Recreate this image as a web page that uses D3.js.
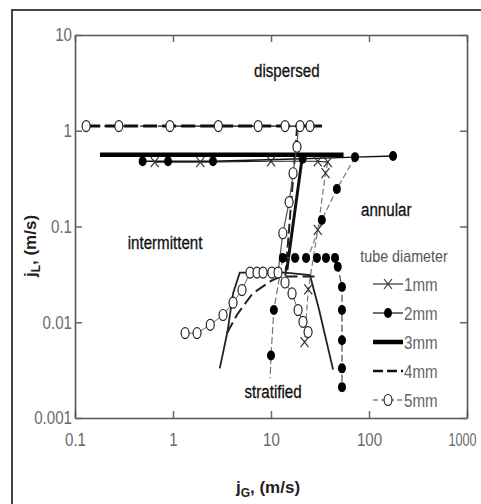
<!DOCTYPE html>
<meta charset="utf-8">
<script src="https://d3js.org/d3.v7.min.js"></script>
<style>
  body { margin: 0; background: #fff; }
  text { font-family: "Liberation Sans", Arial, sans-serif; }
</style>
<svg id="chart" width="481" height="504"></svg>
<script>
  // tick values
  const xTicks = [0.1, 1, 10, 100, 1000];
  const yTicks = [0.001, 0.01, 0.1, 1, 10];

  // flow regime labels [jG, jL]
  const regions = [
    { name: "dispersed", at: [14.5, 3.6] },
    { name: "intermittent", at: [0.83, 0.058] },
    { name: "annular", at: [150, 0.13] },
    { name: "stratified", at: [10.5, 0.0016] }
  ];

  const diameters = ["1mm", "2mm", "3mm", "4mm", "5mm"];

  // 1mm (crosses)
  const mm1Lines = [
    [[0.65, 0.47], [1.9, 0.47], [10, 0.48], [30, 0.48], [38, 0.47]],
    [[38, 0.47], [36, 0.36], [30, 0.092], [24, 0.022], [22, 0.0062]]
  ];
  const mm1Marks = [[0.65, 0.47], [1.9, 0.47], [10, 0.48], [30, 0.48], [38, 0.47], [36, 0.36], [30, 0.092], [24, 0.022], [22, 0.0062]];

  // 2mm (filled circles)
  const mm2Lines = [
    [[0.49, 0.48], [0.89, 0.48], [2.56, 0.48], [21, 0.51], [72, 0.53], [176, 0.545]],
    [[72, 0.53], [47, 0.246], [33, 0.117], [24, 0.048]],
    [[13.2, 0.047], [17.6, 0.047], [22.8, 0.047], [29.4, 0.047], [36.4, 0.047], [45, 0.047], [48, 0.038],
     [53, 0.0233], [53, 0.0134], [53, 0.0065], [53, 0.0033], [53, 0.0021]],
    [[13.2, 0.047], [10.7, 0.0134], [10, 0.0045], [9.8, 0.0026]]
  ];
  const mm2Marks = [[0.49, 0.48], [0.89, 0.48], [2.56, 0.48], [21, 0.51], [72, 0.53], [176, 0.545],
    [47, 0.246], [33, 0.117],
    [13.2, 0.047], [17.6, 0.047], [22.8, 0.047], [29.4, 0.047], [36.4, 0.047], [45, 0.047], [48, 0.038],
    [53, 0.0233], [53, 0.0134], [53, 0.0065], [53, 0.0033], [53, 0.0021],
    [10.7, 0.0134], [10, 0.0045]];

  // 3mm (thick line)
  const mm3Lines = [
    [[0.18, 0.56], [55, 0.56]],
    [[21, 0.56], [14.5, 0.035]],
    [[3.0, 0.0033], [3.6, 0.008], [4.1, 0.02], [4.8, 0.033], [14, 0.033], [25, 0.031], [31, 0.0134], [43, 0.0032]]
  ];

  // 4mm (long dash)
  const mm4Lines = [
    [[0.13, 1.12], [33, 1.12]],
    [[18.5, 1.12], [14, 0.03]],
    [[3.56, 0.0077], [4.5, 0.012], [6.5, 0.02], [10, 0.027], [12.5, 0.03], [24, 0.03], [31, 0.03]]
  ];

  // 5mm (open circles)
  const mm5Lines = [
    [[0.13, 1.12], [0.28, 1.12], [0.93, 1.12], [2.9, 1.12], [7.4, 1.12], [13.9, 1.12], [19.8, 1.12], [25, 1.12], [33, 1.12]],
    [[19, 1.12], [18.4, 0.68], [16.8, 0.36], [15.3, 0.18], [13.2, 0.085], [11.8, 0.033]],
    [[1.33, 0.0077], [1.76, 0.0077], [2.4, 0.0094], [3.24, 0.0119], [4.1, 0.016], [5.06, 0.0217], [6.1, 0.033],
     [7.2, 0.033], [8.3, 0.033], [10.2, 0.033], [11.8, 0.033], [13.9, 0.026], [16.4, 0.02], [18.9, 0.0134],
     [21.2, 0.0101], [23.9, 0.0079]]
  ];
  const mm5Marks = [[0.13, 1.12], [0.28, 1.12], [0.93, 1.12], [2.9, 1.12], [7.4, 1.12], [13.9, 1.12], [19.8, 1.12], [25, 1.12],
    [18.4, 0.68], [16.8, 0.36], [15.3, 0.18], [13.2, 0.085],
    [1.33, 0.0077], [1.76, 0.0077], [2.4, 0.0094], [3.24, 0.0119], [4.1, 0.016], [5.06, 0.0217], [6.1, 0.033],
    [7.2, 0.033], [8.3, 0.033], [10.2, 0.033], [11.8, 0.033], [13.9, 0.026], [16.4, 0.02], [18.9, 0.0134],
    [21.2, 0.0101], [23.9, 0.0079]];

  const svg = d3.select("#chart");
  const mLeft = 75, mTop = 35, mRight = 467, mBottom = 418;

  const x = d3.scaleLog().domain([0.1, 1000]).range([mLeft, mRight]);
  const y = d3.scaleLog().domain([0.001, 10]).range([mBottom, mTop]);

  // outer frame of the scanned figure
  svg.append("rect")
    .attr("x", 12).attr("y", 10).attr("width", 500).attr("height", 520)
    .attr("fill", "none").attr("stroke", "#444").attr("stroke-width", 2);

  const fmt = d => String(d);

  // axes, ticks pointing inward
  const axes = [
    { ax: d3.axisBottom(x).tickValues(xTicks).tickFormat(fmt).tickPadding(15), tr: `translate(0,${mBottom})` },
    { ax: d3.axisTop(x).tickValues(xTicks).tickFormat(""), tr: `translate(0,${mTop})` },
    { ax: d3.axisLeft(y).tickValues(yTicks).tickFormat(fmt).tickPadding(3), tr: `translate(${mLeft},0)` },
    { ax: d3.axisRight(y).tickValues(yTicks).tickFormat(""), tr: `translate(${mRight},0)` }
  ];
  axes.forEach(a => {
    const g = svg.append("g").attr("transform", a.tr)
      .call(a.ax.tickSizeInner(-7).tickSizeOuter(0));
    g.select(".domain").attr("stroke", "#555").attr("stroke-width", 1.6);
    g.selectAll(".tick line").attr("stroke", "#666").attr("stroke-width", 1.5);
    g.selectAll(".tick text").attr("fill", "#6a6a6a").attr("font-size", 18)
      .attr("font-family", '"Liberation Sans", Arial, sans-serif');
  });

  const plot = svg.append("g");
  const line = d3.line().x(d => x(d[0])).y(d => y(d[1]));

  const drawLines = (segs, styles) => {
    segs.forEach((s, i) => {
      const st = styles[i] || styles[styles.length - 1];
      plot.append("path").attr("d", line(s))
        .attr("fill", "none").attr("stroke", st.c)
        .attr("stroke-width", st.w).attr("stroke-dasharray", st.dash || null);
    });
  };

  drawLines(mm4Lines, [{ c: "#111", w: 3, dash: "14,5" }, { c: "#222", w: 2, dash: "10,4" }, { c: "#222", w: 2, dash: "12,5" }]);
  drawLines(mm3Lines, [{ c: "#000", w: 4.5 }, { c: "#111", w: 3 }, { c: "#222", w: 1.8 }]);
  drawLines(mm1Lines, [{ c: "#222", w: 1.2 }, { c: "#777", w: 1.2, dash: "6,3" }]);
  drawLines(mm2Lines, [{ c: "#111", w: 1.3 }, { c: "#777", w: 1.2, dash: "6,3" }, { c: "#555", w: 1.3, dash: "7,3" }, { c: "#777", w: 1.2, dash: "7,3" }]);
  drawLines(mm5Lines, [{ c: "#111", w: 1.3, dash: "14,4" }, { c: "#555", w: 1.2 }, { c: "#666", w: 1 }]);

  const cross = (g, px, py) => {
    g.append("path")
      .attr("d", `M${px - 4},${py - 5}L${px + 4},${py + 5}M${px + 4},${py - 5}L${px - 4},${py + 5}`)
      .attr("stroke", "#333").attr("stroke-width", 1.2);
  };
  const dot = (g, px, py) => {
    g.append("ellipse").attr("cx", px).attr("cy", py).attr("rx", 4).attr("ry", 5).attr("fill", "#000");
  };
  const ring = (g, px, py) => {
    g.append("ellipse").attr("cx", px).attr("cy", py).attr("rx", 4).attr("ry", 5.5)
      .attr("fill", "#fff").attr("stroke", "#222").attr("stroke-width", 1.2);
  };

  mm1Marks.forEach(d => cross(plot, x(d[0]), y(d[1])));
  mm2Marks.forEach(d => dot(plot, x(d[0]), y(d[1])));
  mm5Marks.forEach(d => ring(plot, x(d[0]), y(d[1])));

  // region labels
  regions.forEach(r => {
    svg.append("text").attr("class", "narrow").attr("x", x(r.at[0])).attr("y", y(r.at[1]))
      .attr("text-anchor", "middle").attr("font-size", 18).attr("fill", "#111")
      .attr("stroke", "#111").attr("stroke-width", 0.3)
      .text(r.name);
  });

  // legend
  const leg = svg.append("g");
  leg.append("text").attr("class", "narrow").attr("x", 404).attr("y", 262).attr("text-anchor", "middle")
    .attr("font-size", 17).attr("fill", "#555").text("tube diameter");
  const legStyles = [
    { c: "#333", w: 1.2 }, { c: "#222", w: 1.3 }, { c: "#000", w: 4.5 },
    { c: "#111", w: 2.5, dash: "10,4" }, { c: "#444", w: 1.2, dash: "5,3" }
  ];
  const legY = d3.scalePoint().domain(diameters).range([284, 400]);
  diameters.forEach((dname, i) => {
    const yy = legY(dname);
    const st = legStyles[i];
    leg.append("line").attr("x1", 373).attr("x2", 403).attr("y1", yy).attr("y2", yy)
      .attr("stroke", st.c).attr("stroke-width", st.w).attr("stroke-dasharray", st.dash || null);
    if (i === 0) cross(leg, 388, yy);
    if (i === 1) dot(leg, 388, yy);
    if (i === 4) ring(leg, 388, yy);
    leg.append("text").attr("class", "narrow").attr("x", 404).attr("y", yy + 7)
      .attr("font-size", 18).attr("fill", "#666").text(dname);
  });

  // condense the glyphs like the narrow face of the original
  svg.selectAll(".tick text").classed("narrow", true);
  svg.selectAll("text.narrow").each(function () {
    const w = this.getComputedTextLength();
    if (w > 0) d3.select(this).attr("textLength", w * 0.84).attr("lengthAdjust", "spacingAndGlyphs");
  });
  // last x label sits at the page edge: keep it inside the window
  svg.selectAll(".tick text").filter(d => d === 1000)
    .attr("text-anchor", "end").attr("x", 476 - mRight).attr("textLength", 28);

  // axis titles
  const yt = svg.append("text").attr("transform", "translate(36,246) rotate(-90)")
    .attr("text-anchor", "middle").attr("font-size", 17).attr("font-weight", "bold").attr("fill", "#222");
  yt.append("tspan").text("j");
  yt.append("tspan").attr("font-size", 12).attr("dy", 4).text("L");
  yt.append("tspan").attr("dy", -4).text(", (m/s)");

  const xt = svg.append("text").attr("x", 268).attr("y", 493)
    .attr("text-anchor", "middle").attr("font-size", 17).attr("font-weight", "bold").attr("fill", "#222");
  xt.append("tspan").text("j");
  xt.append("tspan").attr("font-size", 12).attr("dy", 4).text("G");
  xt.append("tspan").attr("dy", -4).text(", (m/s)");
</script>
